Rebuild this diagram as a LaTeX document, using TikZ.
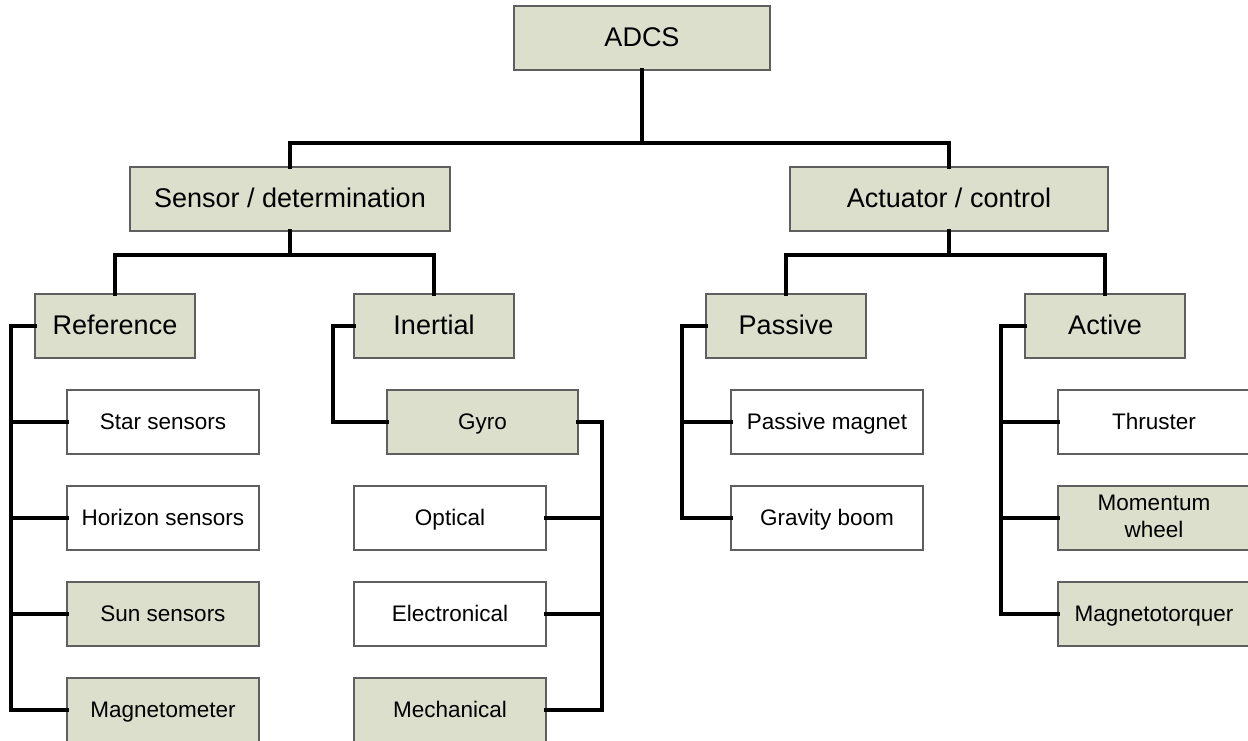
\documentclass[tikz,border=0pt]{standalone}
\usepackage{fontspec}
\setmainfont{Liberation Sans}
\definecolor{boxgreen}{RGB}{219,223,203}
\definecolor{boxline}{RGB}{95,95,95}
\begin{document}
\begin{tikzpicture}[x=1pt,y=-1pt,
  base/.style={draw=boxline, line width=1.3pt, inner sep=0pt, outer sep=0pt,
    minimum height=64pt, align=center, text=black},
  major/.style={base, fill=boxgreen, font=\fontsize{27}{32}\selectfont,
    text height=20pt, text depth=3.4pt},
  minor/.style={base, minimum width=192pt, font=\fontsize{22.5}{27}\selectfont,
    text height=17pt, text depth=3pt},
  minorg/.style={minor, fill=boxgreen},
  minorw/.style={minor, fill=white},
  twoline/.style={text height=40pt, text depth=2pt},
  link/.style={draw=black, line width=3.2pt, line cap=rect}]
\clip (0,0) rectangle (1248,740);
\fill[white] (0,0) rectangle (1248,740);

% top levels
\node[major, minimum width=256pt] (adcs) at (642,38) {ADCS};
\node[major, minimum width=320pt] (sensor) at (290,199) {Sensor / determination};
\node[major, minimum width=318pt] (actuator) at (949,199) {Actuator / control};

% sub-categories
\node[major, minimum width=160pt] (ref) at (115,326) {Reference};
\node[major, minimum width=160pt] (inertial) at (434,326) {Inertial};
\node[major, minimum width=160pt] (passive) at (786,326) {Passive};
\node[major, minimum width=160pt] (active) at (1105,326) {Active};

% reference sensors
\node[minorw] (star) at (163,422) {Star sensors};
\node[minorw] (horizon) at (163,518) {Horizon sensors};
\node[minorg] (sun) at (163,614) {Sun sensors};
\node[minorg] (magneto) at (163,710) {Magnetometer};

% inertial sensors
\node[minorg, minimum width=191pt] (gyro) at (482.5,422) {Gyro};
\node[minorw] (optical) at (450,518) {Optical};
\node[minorw] (electro) at (450,614) {Electronical};
\node[minorg] (mech) at (450,710) {Mechanical};

% passive actuators
\node[minorw] (pmag) at (827,422) {Passive magnet};
\node[minorw] (gboom) at (827,518) {Gravity boom};

% active actuators
\node[minorw] (thruster) at (1154,422) {Thruster};
\node[minorg, twoline] (wheel) at (1154,518) {Momentum\\wheel};
\node[minorg] (mtq) at (1154,614) {Magnetotorquer};

% tree links
\draw[link] (adcs.south) -- ++(0,73) coordinate (j1);
\draw[link] (sensor.north) |- (j1) -| (actuator.north);

\draw[link] (sensor.south) -- ++(0,24) coordinate (j2);
\draw[link] (ref.north) |- (j2) -| (inertial.north);

\draw[link] (actuator.south) -- ++(0,24) coordinate (j3);
\draw[link] (passive.north) |- (j3) -| (active.north);

% reference branch
\draw[link] (ref.west) -- ++(-24,0) coordinate (rt) |- (magneto.west);
\draw[link] (rt |- star.west) -- (star.west);
\draw[link] (rt |- horizon.west) -- (horizon.west);
\draw[link] (rt |- sun.west) -- (sun.west);

% inertial branch
\draw[link] (inertial.west) -- ++(-21,0) |- (gyro.west);
\draw[link] (gyro.east) -- ++(24,0) coordinate (gt) |- (mech.east);
\draw[link] (gt |- optical.east) -- (optical.east);
\draw[link] (gt |- electro.east) -- (electro.east);

% passive branch
\draw[link] (passive.west) -- ++(-24,0) coordinate (pt) |- (gboom.west);
\draw[link] (pt |- pmag.west) -- (pmag.west);

% active branch
\draw[link] (active.west) -- ++(-24,0) coordinate (at) |- (mtq.west);
\draw[link] (at |- thruster.west) -- (thruster.west);
\draw[link] (at |- wheel.west) -- (wheel.west);
\end{tikzpicture}
\end{document}
